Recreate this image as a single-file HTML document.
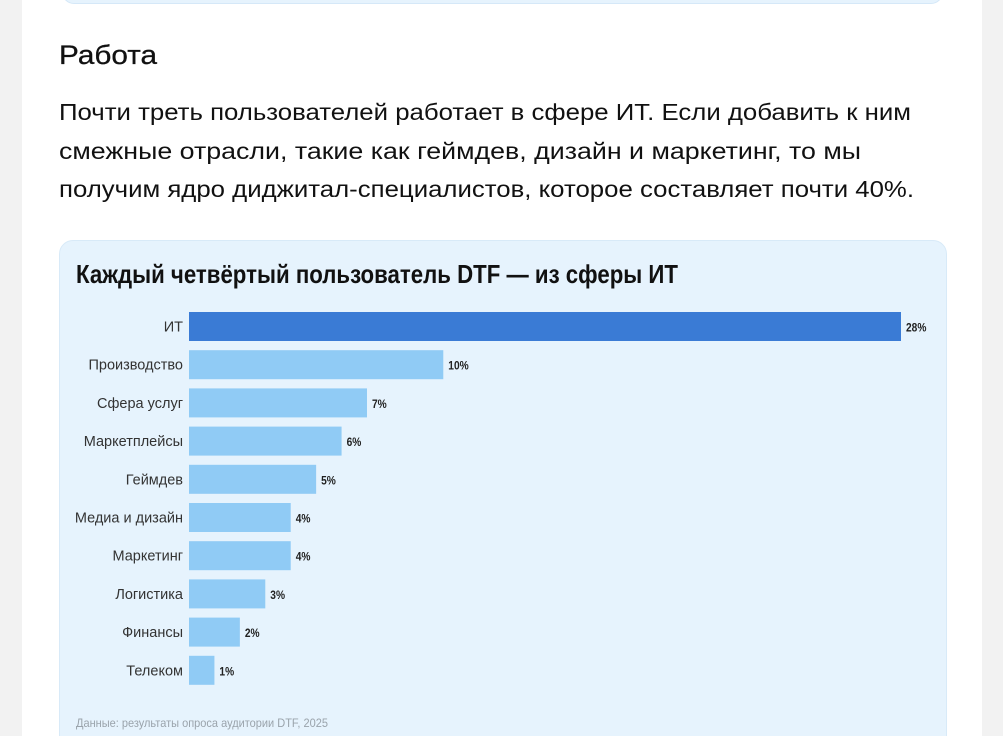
<!DOCTYPE html>
<html><head><meta charset="utf-8">
<style>
html,body{margin:0;padding:0;width:1003px;height:736px;overflow:hidden;background:#f2f2f2;font-family:"Liberation Sans","DejaVu Sans",sans-serif;}
.wrap{position:relative;width:1003px;height:736px;overflow:hidden;}
.page{position:absolute;left:22px;top:0;width:960px;height:736px;background:#fff;}
.prev{position:absolute;left:62px;top:-20px;width:879px;height:22px;background:#e6f3fd;border:1px solid #d5e8f8;border-radius:14px;}
.card{position:absolute;left:59px;top:240px;width:886px;height:520px;background:#e6f3fd;border:1px solid #d8eaf8;border-radius:14px;}
svg{position:absolute;left:0;top:0;}
</style></head><body>
<div class="wrap">
<div class="page"></div>
<div class="prev"></div>
<div class="card"></div>
<svg id="chart" width="1003" height="736">
<text x="59" y="64" font-size="27" fill="#111" stroke="#111" stroke-width="0.3" textLength="98" lengthAdjust="spacingAndGlyphs">Работа</text>
<g font-size="23" fill="#111">
<text x="59" y="120" textLength="852" lengthAdjust="spacingAndGlyphs">Почти треть пользователей работает в сфере ИТ. Если добавить к ним</text>
<text x="59" y="159" textLength="802" lengthAdjust="spacingAndGlyphs">смежные отрасли, такие как геймдев, дизайн и маркетинг, то мы</text>
<text x="59" y="197" textLength="855" lengthAdjust="spacingAndGlyphs">получим ядро диджитал-специалистов, которое составляет почти 40%.</text>
</g>
<text x="76" y="283" font-size="26" font-weight="bold" fill="#111" textLength="602" lengthAdjust="spacingAndGlyphs">Каждый четвёртый пользователь DTF — из сферы ИТ</text>
<text x="76" y="727" font-size="12" fill="#9aa3ab" textLength="252" lengthAdjust="spacingAndGlyphs">Данные: результаты опроса аудитории DTF, 2025</text>
</svg>
</div>
<script>
const categories=["ИТ","Производство","Сфера услуг","Маркетплейсы","Геймдев","Медиа и дизайн","Маркетинг","Логистика","Финансы","Телеком"];
const values=[28,10,7,6,5,4,4,3,2,1];
const valueLabels=["28%","10%","7%","6%","5%","4%","4%","3%","2%","1%"];
const svg=document.getElementById('chart');
const NS='http://www.w3.org/2000/svg';
const x0=189, pxPer=712/28;
function xs(v){return x0+v*pxPer;}
function ys(i){return 312+i*38.2;}
const bh=29;
categories.forEach((c,i)=>{
  const r=document.createElementNS(NS,'rect');
  r.setAttribute('x',x0);r.setAttribute('y',ys(i));
  r.setAttribute('width',xs(values[i])-x0);r.setAttribute('height',bh);
  r.setAttribute('fill',i===0?'#3a7bd5':'#90cbf5');
  
  
  svg.appendChild(r);
  const t=document.createElementNS(NS,'text');
  t.setAttribute('x',x0-6);t.setAttribute('y',ys(i)+bh/2+5);
  t.setAttribute('text-anchor','end');t.setAttribute('font-size','14.5');t.setAttribute('fill','#333');
  t.textContent=c;
  
  
  svg.appendChild(t);
  const v=document.createElementNS(NS,'text');
  const vx=xs(values[i])+5;
  v.setAttribute('x',vx);v.setAttribute('y',ys(i)+bh/2+5);
  v.setAttribute('font-size','12');v.setAttribute('font-weight','bold');v.setAttribute('fill','#222');
  v.setAttribute('transform','translate('+vx+',0) scale(0.85,1) translate('+(-vx)+',0)');
  v.textContent=valueLabels[i];
  
  
  svg.appendChild(v);
});
</script>
</body></html>
